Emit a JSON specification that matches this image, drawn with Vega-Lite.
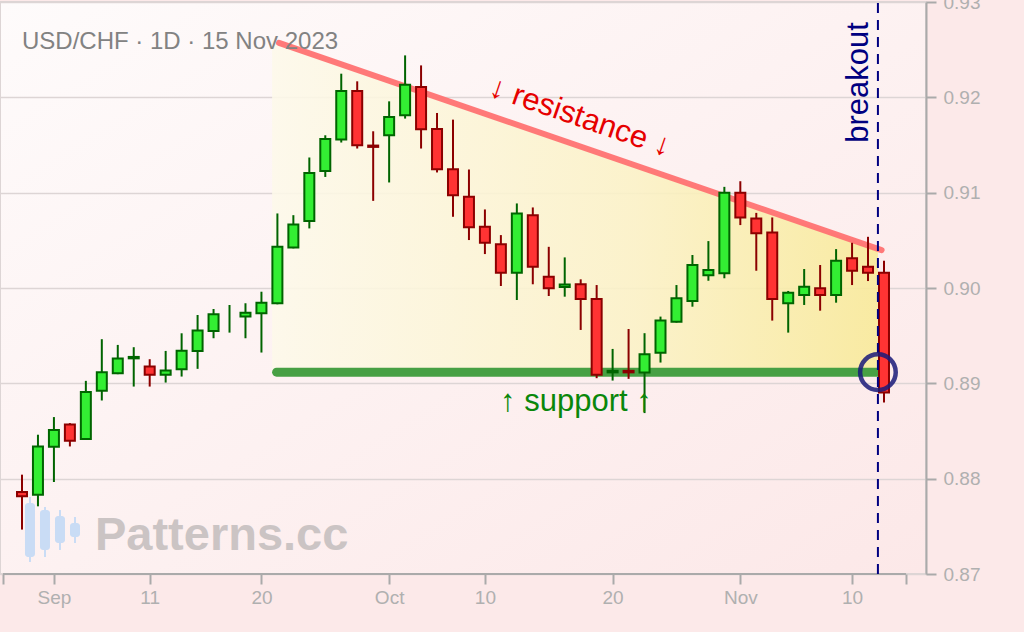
{
  "$schema": "https://vega.github.io/schema/vega-lite/v6.json",
  "width": 926,
  "height": 572,
  "autosize": {"type": "none"},
  "padding": {"left": 0, "top": 2, "right": 98, "bottom": 58},
  "background": "#fce9e9",
  "config": {
    "font": "Liberation Sans",
    "view": {
      "stroke": "#ddd5d5",
      "strokeWidth": 2,
      "fill": {"gradient": "linear", "x1": 0, "y1": 0, "x2": 1, "y2": 1, "stops": [{"offset": 0, "color": "#fefbfb"}, {"offset": 1, "color": "#fce8e8"}]}
    }
  },
  "encoding": {
    "x": {"type": "quantitative", "scale": {"domain": [-1.378, 56.632], "nice": false, "zero": false, "padding": 0},
      "axis": {"title": null, "values": [-1.19, 2, 8, 15, 23, 29, 37, 45, 52, 55.38],
        "labelExpr": "datum.value == 2 ? 'Sep' : datum.value == 8 ? '11' : datum.value == 15 ? '20' : datum.value == 23 ? 'Oct' : datum.value == 29 ? '10' : datum.value == 37 ? '20' : datum.value == 45 ? 'Nov' : datum.value == 52 ? '10' : ''",
        "domain": false, "grid": false, "tickSize": 10, "tickWidth": 2, "tickColor": "#aaaaaa",
        "labelFontSize": 19, "labelColor": "#b0b0b0", "labelPadding": 4, "labelFlush": false, "labelOverlap": false}},
    "y": {"type": "quantitative", "scale": {"domain": [0.87, 0.93], "nice": false, "zero": false, "padding": 0},
      "axis": {"orient": "right", "title": null, "values": [0.87, 0.88, 0.89, 0.9, 0.91, 0.92, 0.93], "format": ".2f",
        "domainColor": "#aaaaaa", "domainWidth": 2, "tickColor": "#aaaaaa", "tickWidth": 2, "tickSize": 10,
        "labelFontSize": 19, "labelColor": "#b0b0b0", "labelPadding": 7, "labelFlush": false, "labelOverlap": false,
        "grid": true, "gridColor": "#ddd5d5", "gridWidth": 1.5}}
  },
  "datasets": {
    "candles": [
      {"i": 0, "date": "2023-08-30", "open": 0.87861, "high": 0.88042, "low": 0.87466, "close": 0.87815},
      {"i": 1, "date": "2023-08-31", "open": 0.87832, "high": 0.88461, "low": 0.8771, "close": 0.88338},
      {"i": 2, "date": "2023-09-01", "open": 0.88335, "high": 0.88646, "low": 0.87965, "close": 0.8851},
      {"i": 3, "date": "2023-09-04", "open": 0.88569, "high": 0.88583, "low": 0.88338, "close": 0.88398},
      {"i": 4, "date": "2023-09-05", "open": 0.88416, "high": 0.89026, "low": 0.88408, "close": 0.88908},
      {"i": 5, "date": "2023-09-06", "open": 0.88921, "high": 0.89463, "low": 0.8882, "close": 0.89117},
      {"i": 6, "date": "2023-09-07", "open": 0.89107, "high": 0.89403, "low": 0.89096, "close": 0.8926},
      {"i": 7, "date": "2023-09-08", "open": 0.89262, "high": 0.89379, "low": 0.88966, "close": 0.89277},
      {"i": 8, "date": "2023-09-11", "open": 0.89176, "high": 0.89253, "low": 0.88966, "close": 0.89089},
      {"i": 9, "date": "2023-09-12", "open": 0.89089, "high": 0.8934, "low": 0.89008, "close": 0.89134},
      {"i": 10, "date": "2023-09-13", "open": 0.89149, "high": 0.89525, "low": 0.89071, "close": 0.89343},
      {"i": 11, "date": "2023-09-14", "open": 0.8934, "high": 0.89717, "low": 0.89152, "close": 0.89553},
      {"i": 12, "date": "2023-09-15", "open": 0.8955, "high": 0.8978, "low": 0.89473, "close": 0.89725},
      {"i": 13, "date": "2023-09-18", "open": 0.8968, "high": 0.89822, "low": 0.89532, "close": 0.8968},
      {"i": 14, "date": "2023-09-19", "open": 0.897, "high": 0.8984, "low": 0.89473, "close": 0.89741},
      {"i": 15, "date": "2023-09-20", "open": 0.89735, "high": 0.89961, "low": 0.89323, "close": 0.89846},
      {"i": 16, "date": "2023-09-21", "open": 0.8984, "high": 0.90782, "low": 0.89829, "close": 0.90432},
      {"i": 17, "date": "2023-09-22", "open": 0.90426, "high": 0.90764, "low": 0.90416, "close": 0.90667},
      {"i": 18, "date": "2023-09-25", "open": 0.90702, "high": 0.91369, "low": 0.90625, "close": 0.91207},
      {"i": 19, "date": "2023-09-26", "open": 0.91228, "high": 0.91602, "low": 0.91165, "close": 0.91563},
      {"i": 20, "date": "2023-09-27", "open": 0.91557, "high": 0.92248, "low": 0.91526, "close": 0.92066},
      {"i": 21, "date": "2023-09-28", "open": 0.92066, "high": 0.92168, "low": 0.91463, "close": 0.91497},
      {"i": 22, "date": "2023-09-29", "open": 0.91494, "high": 0.91644, "low": 0.90914, "close": 0.9148},
      {"i": 23, "date": "2023-10-02", "open": 0.91602, "high": 0.91958, "low": 0.91107, "close": 0.91794},
      {"i": 24, "date": "2023-10-03", "open": 0.91812, "high": 0.9244, "low": 0.91777, "close": 0.92133},
      {"i": 25, "date": "2023-10-04", "open": 0.92108, "high": 0.92335, "low": 0.91463, "close": 0.91665},
      {"i": 26, "date": "2023-10-05", "open": 0.91668, "high": 0.91836, "low": 0.91212, "close": 0.91246},
      {"i": 27, "date": "2023-10-06", "open": 0.91246, "high": 0.91766, "low": 0.90747, "close": 0.90974},
      {"i": 28, "date": "2023-10-09", "open": 0.90956, "high": 0.91243, "low": 0.90503, "close": 0.90636},
      {"i": 29, "date": "2023-10-10", "open": 0.90642, "high": 0.90824, "low": 0.90356, "close": 0.90474},
      {"i": 30, "date": "2023-10-11", "open": 0.90458, "high": 0.90555, "low": 0.90021, "close": 0.9016},
      {"i": 31, "date": "2023-10-12", "open": 0.9016, "high": 0.90887, "low": 0.89874, "close": 0.90782},
      {"i": 32, "date": "2023-10-13", "open": 0.90764, "high": 0.90845, "low": 0.90039, "close": 0.90223},
      {"i": 33, "date": "2023-10-16", "open": 0.90118, "high": 0.90432, "low": 0.89916, "close": 0.89997},
      {"i": 34, "date": "2023-10-17", "open": 0.9001, "high": 0.90321, "low": 0.89909, "close": 0.90037},
      {"i": 35, "date": "2023-10-18", "open": 0.90039, "high": 0.90091, "low": 0.8956, "close": 0.89885},
      {"i": 36, "date": "2023-10-19", "open": 0.89885, "high": 0.90031, "low": 0.89054, "close": 0.89089},
      {"i": 37, "date": "2023-10-20", "open": 0.89115, "high": 0.89361, "low": 0.89029, "close": 0.89131},
      {"i": 38, "date": "2023-10-23", "open": 0.89131, "high": 0.8957, "low": 0.89047, "close": 0.89115},
      {"i": 39, "date": "2023-10-24", "open": 0.89113, "high": 0.89526, "low": 0.88688, "close": 0.89306},
      {"i": 40, "date": "2023-10-25", "open": 0.89322, "high": 0.897, "low": 0.89218, "close": 0.89658},
      {"i": 41, "date": "2023-10-26", "open": 0.89647, "high": 0.90031, "low": 0.89637, "close": 0.89892},
      {"i": 42, "date": "2023-10-27", "open": 0.89864, "high": 0.90346, "low": 0.89804, "close": 0.90241},
      {"i": 43, "date": "2023-10-30", "open": 0.90133, "high": 0.90492, "low": 0.90076, "close": 0.90188},
      {"i": 44, "date": "2023-10-31", "open": 0.90154, "high": 0.91061, "low": 0.90102, "close": 0.90998},
      {"i": 45, "date": "2023-11-01", "open": 0.90998, "high": 0.9112, "low": 0.9066, "close": 0.9074},
      {"i": 46, "date": "2023-11-02", "open": 0.9073, "high": 0.90788, "low": 0.90181, "close": 0.90573},
      {"i": 47, "date": "2023-11-03", "open": 0.90583, "high": 0.9074, "low": 0.89658, "close": 0.89885},
      {"i": 48, "date": "2023-11-06", "open": 0.8984, "high": 0.89969, "low": 0.89532, "close": 0.89951},
      {"i": 49, "date": "2023-11-07", "open": 0.89927, "high": 0.90199, "low": 0.89822, "close": 0.90014},
      {"i": 50, "date": "2023-11-08", "open": 0.89997, "high": 0.90241, "low": 0.89762, "close": 0.89927},
      {"i": 51, "date": "2023-11-09", "open": 0.89927, "high": 0.90408, "low": 0.89846, "close": 0.90286},
      {"i": 52, "date": "2023-11-10", "open": 0.90311, "high": 0.90474, "low": 0.90031, "close": 0.90181},
      {"i": 53, "date": "2023-11-13", "open": 0.90223, "high": 0.90537, "low": 0.90073, "close": 0.9016},
      {"i": 54, "date": "2023-11-14", "open": 0.9016, "high": 0.90286, "low": 0.88799, "close": 0.88904}
    ],
    "logo": [
      {"i": 0.5, "top": 0.87745, "bottom": 0.87178, "hi": 0.87808, "lo": 0.87126},
      {"i": 1.44, "top": 0.87671, "bottom": 0.87252, "hi": 0.87703, "lo": 0.87178},
      {"i": 2.38, "top": 0.87608, "bottom": 0.87325, "hi": 0.87671, "lo": 0.87252},
      {"i": 3.32, "top": 0.87535, "bottom": 0.87388, "hi": 0.87598, "lo": 0.87325}
    ]
  },
  "layer": [
    {
      "data": {"values": [{"i": 15.67, "top": 0.92596, "bottom": 0.89117}, {"i": 53.62, "top": 0.90411, "bottom": 0.89117}]},
      "mark": {"type": "area", "opacity": 0.88, "color": {"gradient": "linear", "x1": 0, "y1": 0, "x2": 1, "y2": 0, "stops": [{"offset": 0, "color": "#fdf9ea"}, {"offset": 0.6, "color": "#fbf2c6"}, {"offset": 1, "color": "#f8ea98"}]}},
      "encoding": {
        "x": {"field": "i"},
        "y": {"field": "top"},
        "y2": {"field": "bottom"}
      }
    },
    {
      "data": {"values": [{"i": 16.1, "v": 0.92571}, {"i": 53.85, "v": 0.90398}]},
      "mark": {"type": "line", "color": "#ff7272", "strokeWidth": 6, "strokeCap": "round", "opacity": 0.95},
      "encoding": {"x": {"field": "i"}, "y": {"field": "v"}}
    },
    {
      "data": {"values": [{"i": 15.95, "v": 0.89117}, {"i": 53.62, "v": 0.89117}]},
      "mark": {"type": "line", "color": "#47a044", "strokeWidth": 9, "strokeCap": "round"},
      "encoding": {"x": {"field": "i"}, "y": {"field": "v"}}
    },
    {
      "data": {"name": "logo"},
      "mark": {"type": "rule", "color": "#c9dcf5", "strokeWidth": 2},
      "encoding": {"x": {"field": "i"}, "y": {"field": "lo"}, "y2": {"field": "hi"}}
    },
    {
      "data": {"name": "logo"},
      "mark": {"type": "bar", "width": 10, "color": "#c9dcf5", "cornerRadius": 3},
      "encoding": {"x": {"field": "i"}, "y": {"field": "bottom"}, "y2": {"field": "top"}}
    },
    {
      "data": {"values": [{"label": "Patterns.cc", "i": 4.57, "v": 0.87252}]},
      "mark": {"type": "text", "align": "left", "baseline": "alphabetic", "fontSize": 47, "fontWeight": "bold", "color": "#cbc4c4"},
      "encoding": {"x": {"field": "i"}, "y": {"field": "v"}, "text": {"field": "label"}}
    },
    {
      "data": {"name": "candles"},
      "mark": {"type": "rule", "strokeWidth": 2},
      "encoding": {
        "x": {"field": "i"},
        "y": {"field": "low"},
        "y2": {"field": "high"},
        "color": {"condition": {"test": "datum.close >= datum.open", "value": "#006400"}, "value": "#8b0000"}
      }
    },
    {
      "data": {"name": "candles"},
      "mark": {"type": "bar", "width": 10, "strokeWidth": 2},
      "encoding": {
        "x": {"field": "i"},
        "y": {"field": "open"},
        "y2": {"field": "close"},
        "fill": {"condition": {"test": "datum.close >= datum.open", "value": "#33ee33"}, "value": "#ff3333"},
        "stroke": {"condition": {"test": "datum.close >= datum.open", "value": "#006400"}, "value": "#8b0000"},
        "opacity": {"condition": {"test": "datum.close == datum.open", "value": 0}, "value": 1}
      }
    },
    {
      "data": {"values": [{"i0": -1.19, "i1": 55.38, "v": 0.87}]},
      "mark": {"type": "rule", "color": "#aaaaaa", "strokeWidth": 2},
      "encoding": {"x": {"field": "i0"}, "x2": {"field": "i1"}, "y": {"field": "v"}}
    },
    {
      "data": {"values": [{"i": 53.62, "v0": 0.87, "v1": 0.9302}]},
      "mark": {"type": "rule", "color": "#000080", "strokeWidth": 2, "strokeDash": [10, 7]},
      "encoding": {"x": {"field": "i"}, "y": {"field": "v0"}, "y2": {"field": "v1"}}
    },
    {
      "data": {"values": [{"i": 53.62, "v": 0.89117}]},
      "mark": {"type": "point", "shape": "circle", "size": 1270, "filled": false, "stroke": "#1a1a7a", "strokeWidth": 4.5, "opacity": 0.85},
      "encoding": {"x": {"field": "i"}, "y": {"field": "v"}}
    },
    {
      "data": {"values": [{"label": "USD/CHF · 1D · 15 Nov 2023", "i": 0, "v": 0.92504}]},
      "mark": {"type": "text", "align": "left", "baseline": "alphabetic", "fontSize": 24, "color": "#828282"},
      "encoding": {"x": {"field": "i"}, "y": {"field": "v"}, "text": {"field": "label"}}
    },
    {
      "data": {"values": [{"label": "↓ resistance ↓", "i": 34.77, "v": 0.91699}]},
      "mark": {"type": "text", "align": "center", "baseline": "alphabetic", "fontSize": 31, "angle": 19, "color": "#e60000"},
      "encoding": {"x": {"field": "i"}, "y": {"field": "v"}, "text": {"field": "label"}}
    },
    {
      "data": {"values": [{"label": "↑ support ↑", "i": 34.7, "v": 0.88705}]},
      "mark": {"type": "text", "align": "center", "baseline": "alphabetic", "fontSize": 31, "color": "#0a870a"},
      "encoding": {"x": {"field": "i"}, "y": {"field": "v"}, "text": {"field": "label"}}
    },
    {
      "data": {"values": [{"label": "breakout", "i": 53.0, "v": 0.92156}]},
      "mark": {"type": "text", "align": "center", "baseline": "alphabetic", "fontSize": 31, "angle": 270, "color": "#000080"},
      "encoding": {"x": {"field": "i"}, "y": {"field": "v"}, "text": {"field": "label"}}
    }
  ]
}
